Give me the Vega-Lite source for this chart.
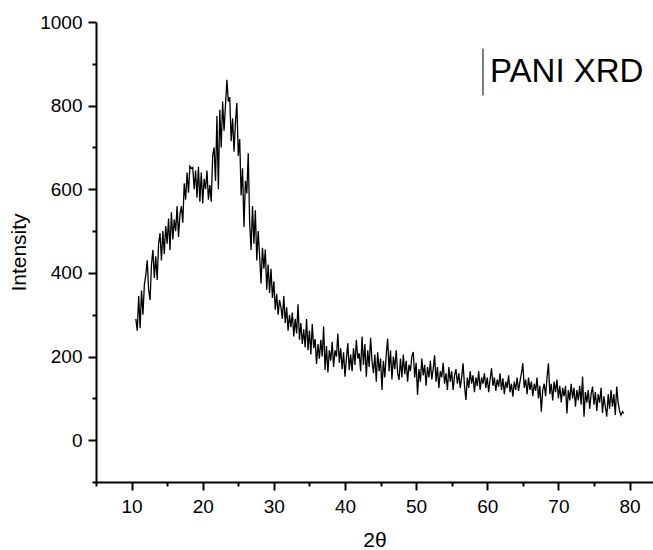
{
  "$schema": "https://vega.github.io/schema/vega-lite/v6.json",
  "width": 557,
  "height": 460,
  "autosize": "none",
  "padding": {"left": 96, "top": 22, "right": 0, "bottom": 68},
  "background": "white",
  "config": {"view": {"stroke": null}, "font": "Liberation Sans"},
  "data": {"values": [
{"x":10.6,"y":290},{"x":10.8,"y":262},{"x":11.0,"y":345},{"x":11.2,"y":268},{"x":11.4,"y":358},{"x":11.6,"y":300},{"x":11.8,"y":372},{"x":12.0,"y":395},{"x":12.2,"y":430},{"x":12.4,"y":360},
{"x":12.6,"y":335},{"x":12.8,"y":420},{"x":13.0,"y":455},{"x":13.2,"y":388},{"x":13.4,"y":440},{"x":13.6,"y":383},{"x":13.8,"y":470},{"x":14.0,"y":495},{"x":14.2,"y":430},{"x":14.4,"y":500},
{"x":14.6,"y":445},{"x":14.8,"y":512},{"x":15.0,"y":470},{"x":15.2,"y":530},{"x":15.4,"y":454},{"x":15.6,"y":545},{"x":15.8,"y":480},{"x":16.0,"y":528},{"x":16.2,"y":500},{"x":16.4,"y":560},
{"x":16.6,"y":486},{"x":16.8,"y":540},{"x":17.0,"y":560},{"x":17.2,"y":520},{"x":17.4,"y":614},{"x":17.6,"y":575},{"x":17.8,"y":640},{"x":18.0,"y":592},{"x":18.2,"y":655},{"x":18.4,"y":650},
{"x":18.6,"y":652},{"x":18.8,"y":600},{"x":19.0,"y":645},{"x":19.2,"y":580},{"x":19.4,"y":654},{"x":19.6,"y":570},{"x":19.8,"y":640},{"x":20.0,"y":566},{"x":20.2,"y":625},{"x":20.4,"y":600},
{"x":20.6,"y":645},{"x":20.8,"y":575},{"x":21.0,"y":610},{"x":21.2,"y":570},{"x":21.4,"y":680},{"x":21.6,"y":700},{"x":21.8,"y":620},{"x":22.0,"y":775},{"x":22.2,"y":600},{"x":22.4,"y":790},
{"x":22.6,"y":700},{"x":22.8,"y":810},{"x":23.0,"y":740},{"x":23.2,"y":800},{"x":23.4,"y":862},{"x":23.6,"y":810},{"x":23.8,"y":820},{"x":24.0,"y":715},{"x":24.2,"y":770},{"x":24.4,"y":690},
{"x":24.6,"y":760},{"x":24.8,"y":806},{"x":25.0,"y":680},{"x":25.2,"y":720},{"x":25.4,"y":585},{"x":25.6,"y":650},{"x":25.8,"y":510},{"x":26.0,"y":620},{"x":26.2,"y":590},{"x":26.4,"y":686},
{"x":26.6,"y":520},{"x":26.8,"y":455},{"x":27.0,"y":560},{"x":27.2,"y":470},{"x":27.4,"y":550},{"x":27.6,"y":430},{"x":27.8,"y":500},{"x":28.0,"y":440},{"x":28.2,"y":375},{"x":28.4,"y":460},
{"x":28.6,"y":410},{"x":28.8,"y":456},{"x":29.0,"y":360},{"x":29.2,"y":420},{"x":29.4,"y":352},{"x":29.6,"y":410},{"x":29.8,"y":340},{"x":30.0,"y":380},{"x":30.2,"y":312},{"x":30.4,"y":350},
{"x":30.6,"y":300},{"x":30.8,"y":335},{"x":31.0,"y":318},{"x":31.2,"y":290},{"x":31.4,"y":345},{"x":31.6,"y":280},{"x":31.8,"y":318},{"x":32.0,"y":262},{"x":32.2,"y":300},{"x":32.4,"y":270},
{"x":32.6,"y":305},{"x":32.8,"y":248},{"x":33.0,"y":290},{"x":33.2,"y":255},{"x":33.4,"y":325},{"x":33.6,"y":240},{"x":33.8,"y":280},{"x":34.0,"y":230},{"x":34.2,"y":265},{"x":34.4,"y":222},
{"x":34.6,"y":290},{"x":34.8,"y":215},{"x":35.0,"y":262},{"x":35.2,"y":205},{"x":35.4,"y":278},{"x":35.6,"y":220},{"x":35.8,"y":242},{"x":36.0,"y":182},{"x":36.2,"y":230},{"x":36.4,"y":195},
{"x":36.6,"y":240},{"x":36.8,"y":200},{"x":37.0,"y":272},{"x":37.2,"y":168},{"x":37.4,"y":225},{"x":37.6,"y":162},{"x":37.8,"y":215},{"x":38.0,"y":190},{"x":38.2,"y":235},{"x":38.4,"y":175},
{"x":38.6,"y":215},{"x":38.8,"y":200},{"x":39.0,"y":255},{"x":39.2,"y":185},{"x":39.4,"y":220},{"x":39.6,"y":170},{"x":39.8,"y":210},{"x":40.0,"y":152},{"x":40.2,"y":195},{"x":40.4,"y":232},
{"x":40.6,"y":168},{"x":40.8,"y":205},{"x":41.0,"y":165},{"x":41.2,"y":220},{"x":41.4,"y":180},{"x":41.6,"y":240},{"x":41.8,"y":195},{"x":42.0,"y":208},{"x":42.2,"y":165},{"x":42.4,"y":248},
{"x":42.6,"y":180},{"x":42.8,"y":230},{"x":43.0,"y":152},{"x":43.2,"y":215},{"x":43.4,"y":175},{"x":43.6,"y":245},{"x":43.8,"y":190},{"x":44.0,"y":160},{"x":44.2,"y":205},{"x":44.4,"y":140},
{"x":44.6,"y":210},{"x":44.8,"y":165},{"x":45.0,"y":195},{"x":45.2,"y":120},{"x":45.4,"y":190},{"x":45.6,"y":150},{"x":45.8,"y":205},{"x":46.0,"y":243},{"x":46.2,"y":165},{"x":46.4,"y":215},
{"x":46.6,"y":145},{"x":46.8,"y":200},{"x":47.0,"y":170},{"x":47.2,"y":215},{"x":47.4,"y":160},{"x":47.6,"y":144},{"x":47.8,"y":195},{"x":48.0,"y":150},{"x":48.2,"y":205},{"x":48.4,"y":158},
{"x":48.6,"y":190},{"x":48.8,"y":140},{"x":49.0,"y":180},{"x":49.2,"y":165},{"x":49.4,"y":200},{"x":49.6,"y":211},{"x":49.8,"y":150},{"x":50.0,"y":185},{"x":50.2,"y":108},{"x":50.4,"y":170},
{"x":50.6,"y":140},{"x":50.8,"y":195},{"x":51.0,"y":155},{"x":51.2,"y":180},{"x":51.4,"y":130},{"x":51.6,"y":175},{"x":51.8,"y":150},{"x":52.0,"y":190},{"x":52.2,"y":145},{"x":52.4,"y":170},
{"x":52.6,"y":203},{"x":52.8,"y":140},{"x":53.0,"y":175},{"x":53.2,"y":125},{"x":53.4,"y":165},{"x":53.6,"y":150},{"x":53.8,"y":185},{"x":54.0,"y":135},{"x":54.2,"y":160},{"x":54.4,"y":120},
{"x":54.6,"y":175},{"x":54.8,"y":140},{"x":55.0,"y":165},{"x":55.2,"y":120},{"x":55.4,"y":155},{"x":55.6,"y":170},{"x":55.8,"y":135},{"x":56.0,"y":160},{"x":56.2,"y":125},{"x":56.4,"y":150},
{"x":56.6,"y":184},{"x":56.8,"y":130},{"x":57.0,"y":96},{"x":57.2,"y":150},{"x":57.4,"y":125},{"x":57.6,"y":165},{"x":57.8,"y":135},{"x":58.0,"y":155},{"x":58.2,"y":115},{"x":58.4,"y":150},
{"x":58.6,"y":130},{"x":58.8,"y":165},{"x":59.0,"y":120},{"x":59.2,"y":150},{"x":59.4,"y":135},{"x":59.6,"y":160},{"x":59.8,"y":125},{"x":60.0,"y":150},{"x":60.2,"y":115},{"x":60.4,"y":145},
{"x":60.6,"y":172},{"x":60.8,"y":130},{"x":61.0,"y":150},{"x":61.2,"y":118},{"x":61.4,"y":145},{"x":61.6,"y":128},{"x":61.8,"y":160},{"x":62.0,"y":120},{"x":62.2,"y":148},{"x":62.4,"y":110},
{"x":62.6,"y":140},{"x":62.8,"y":125},{"x":63.0,"y":155},{"x":63.2,"y":115},{"x":63.4,"y":135},{"x":63.6,"y":104},{"x":63.8,"y":140},{"x":64.0,"y":120},{"x":64.2,"y":150},{"x":64.4,"y":118},
{"x":64.6,"y":140},{"x":64.8,"y":160},{"x":65.0,"y":184},{"x":65.2,"y":125},{"x":65.4,"y":145},{"x":65.6,"y":110},{"x":65.8,"y":150},{"x":66.0,"y":120},{"x":66.2,"y":140},{"x":66.4,"y":105},
{"x":66.6,"y":135},{"x":66.8,"y":118},{"x":67.0,"y":150},{"x":67.2,"y":100},{"x":67.4,"y":130},{"x":67.6,"y":68},{"x":67.8,"y":120},{"x":68.0,"y":135},{"x":68.2,"y":105},{"x":68.4,"y":150},
{"x":68.6,"y":184},{"x":68.8,"y":110},{"x":69.0,"y":135},{"x":69.2,"y":95},{"x":69.4,"y":140},{"x":69.6,"y":115},{"x":69.8,"y":145},{"x":70.0,"y":100},{"x":70.2,"y":130},{"x":70.4,"y":90},
{"x":70.6,"y":125},{"x":70.8,"y":105},{"x":71.0,"y":130},{"x":71.2,"y":64},{"x":71.4,"y":120},{"x":71.6,"y":95},{"x":71.8,"y":135},{"x":72.0,"y":100},{"x":72.2,"y":125},{"x":72.4,"y":80},
{"x":72.6,"y":120},{"x":72.8,"y":95},{"x":73.0,"y":130},{"x":73.2,"y":85},{"x":73.4,"y":152},{"x":73.6,"y":56},{"x":73.8,"y":115},{"x":74.0,"y":90},{"x":74.2,"y":120},{"x":74.4,"y":75},
{"x":74.6,"y":110},{"x":74.8,"y":128},{"x":75.0,"y":85},{"x":75.2,"y":115},{"x":75.4,"y":70},{"x":75.6,"y":110},{"x":75.8,"y":90},{"x":76.0,"y":125},{"x":76.2,"y":65},{"x":76.4,"y":105},
{"x":76.6,"y":80},{"x":76.8,"y":56},{"x":77.0,"y":110},{"x":77.2,"y":75},{"x":77.4,"y":120},{"x":77.6,"y":80},{"x":77.8,"y":110},{"x":78.0,"y":60},{"x":78.2,"y":128},{"x":78.4,"y":90},
{"x":78.6,"y":70},{"x":78.8,"y":60},{"x":79.0,"y":68},{"x":79.2,"y":64}
  ]},
  "mark": {"type": "line", "strokeWidth": 1.3, "clip": true},
  "encoding": {
    "x": {
      "field": "x", "type": "quantitative",
      "scale": {"domain": [5, 83.3], "nice": false, "zero": false},
      "axis": {
        "title": "2θ", "format": "d",
        "values": [5,10,15,20,25,30,35,40,45,50,55,60,65,70,75,80],
        "labelExpr": "datum.value % 10 === 0 ? datum.label : ''",
        "tickSize": {"condition": {"test": "datum.value % 10 === 0", "value": 8}, "value": 4},
        "grid": false, "domainColor": "black", "domainWidth": 2,
        "tickColor": "black", "tickWidth": 2,
        "labelFontSize": 19, "labelColor": "black", "labelPadding": 7, "labelFlush": false,
        "titleFontSize": 21, "titleFontWeight": "normal", "titleColor": "black", "titlePadding": 13
      }
    },
    "y": {
      "field": "y", "type": "quantitative",
      "scale": {"domain": [-100, 1000], "nice": false, "zero": false},
      "axis": {
        "title": "Intensity", "format": "d",
        "values": [-100,0,100,200,300,400,500,600,700,800,900,1000],
        "labelExpr": "datum.value % 200 === 0 ? datum.label : ''",
        "tickSize": {"condition": {"test": "datum.value % 200 === 0", "value": 8}, "value": 4},
        "grid": false, "domainColor": "black", "domainWidth": 2,
        "tickColor": "black", "tickWidth": 2,
        "labelFontSize": 19, "labelColor": "black", "labelPadding": 6, "labelFlush": false,
        "titleFontSize": 21, "titleFontWeight": "normal", "titleColor": "black", "titlePadding": 10
      }
    },
    "color": {
      "datum": "PANI XRD",
      "scale": {"range": ["#000000"]},
      "legend": {
        "orient": "none", "legendX": 363, "legendY": 26, "title": null, "padding": 0,
        "symbolType": "M0,-1L0,1", "symbolSize": 2209, "symbolStrokeColor": "#555555", "symbolStrokeWidth": 1,
        "labelFontSize": 33, "labelColor": "black", "labelOffset": -17, "labelFont": "Liberation Sans"
      }
    }
  }
}
